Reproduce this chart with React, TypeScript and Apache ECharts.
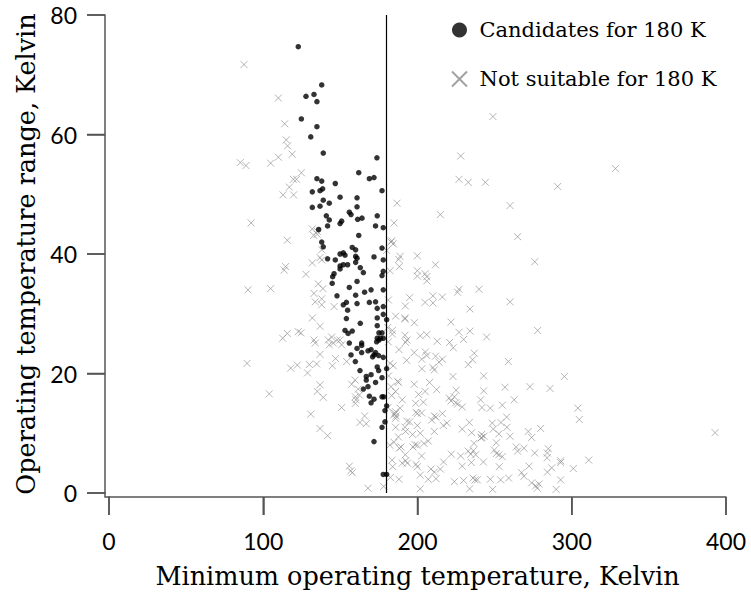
import React, { useEffect, useRef } from "react";
import * as echarts from "echarts";

const xTicks = [0, 100, 200, 300, 400];
const yTicks = [0, 20, 40, 60, 80];
const xTitle = "Minimum operating temperature, Kelvin";
const yTitle = "Operating temperature range, Kelvin";
const candidateName = "Candidates for 180 K";
const unsuitableName = "Not suitable for 180 K";
const threshold = 180;

const candidates: [number, number][] = [
  [122.7,74.7],[137.9,68.3],[132.9,66.7],[127.7,66.4],[134.8,65.5],[124.7,62.6],[134.8,61.3],[130.8,59.6],[138.9,56.9],[173.7,56.1],
  [161.9,53.6],[168.8,52.6],[171.8,52.8],[134.8,52.6],[137.9,52.2],[146.7,51.8],[131.8,50.4],[136.8,50.6],[138.5,50.9],[177.0,50.6],
  [149.8,49.5],[160.8,49.4],[138.9,49.0],[142.8,48.5],[131.8,47.8],[136.8,48.0],[160.8,47.9],[155.8,47.0],[156.9,46.6],[173.9,46.4],
  [140.9,46.4],[142.8,45.7],[161.2,45.8],[164.0,46.0],[150.8,45.5],[149.8,45.1],[141.7,44.7],[172.8,44.7],[177.8,44.4],[135.9,44.1],
  [161.9,43.1],[137.9,42.0],[138.9,41.2],[157.7,41.1],[159.9,40.7],[177.0,41.0],[149.8,40.0],[151.9,40.2],[153.0,39.8],[159.9,39.6],
  [160.8,39.3],[171.8,39.5],[141.7,39.2],[146.7,39.0],[177.8,39.0],[159.9,38.6],[151.9,38.2],[154.7,38.2],[149.8,38.0],[149.8,37.5],
  [162.9,37.7],[164.9,36.9],[177.8,37.1],[145.9,36.7],[145.0,36.2],[177.0,36.4],[160.8,35.4],[144.7,35.1],[155.8,34.4],[169.9,34.0],
  [177.8,34.0],[165.7,33.6],[159.9,33.1],[147.8,33.0],[153.9,31.9],[151.9,31.5],[160.8,31.7],[168.8,31.9],[172.8,32.0],[177.8,31.2],
  [154.7,30.6],[173.9,30.9],[177.8,29.9],[173.9,29.3],[180.0,29.0],[153.9,29.2],[162.9,28.4],[173.9,28.0],[153.0,27.2],[155.0,26.7],
  [157.7,27.1],[175.0,26.8],[177.0,26.8],[173.9,25.9],[175.9,25.9],[177.8,25.9],[173.5,25.3],[175.0,25.6],[155.8,25.1],[163.8,25.1],
  [163.8,24.7],[160.8,24.2],[167.9,23.8],[169.9,24.0],[163.8,23.5],[172.8,23.5],[171.8,23.1],[170.9,22.8],[174.8,23.0],[177.8,22.7],
  [156.9,23.1],[159.7,22.0],[173.9,21.1],[174.8,20.5],[180.0,20.8],[162.7,20.5],[169.9,19.8],[166.8,19.5],[177.0,19.3],[166.8,18.9],
  [172.8,18.5],[167.9,17.8],[164.9,17.4],[168.8,16.2],[171.8,15.7],[177.0,16.1],[178.1,16.1],[169.9,15.1],[180.0,14.6],[178.9,13.8],
  [178.9,11.9],[177.0,11.0],[171.8,8.6],[177.8,3.1],[180.0,3.1]
];

const unsuitable: [number, number][] = [
  [87.5,71.7],[109.8,66.1],[113.9,61.8],[114.9,59.1],[115.8,58.1],[118.8,56.7],[109.8,56.2],[104.8,55.2],[85.1,55.3],[88.8,54.8],
  [124.7,53.6],[119.5,52.5],[121.6,52.5],[116.9,51.2],[112.8,49.9],[119.7,49.9],[186.7,48.5],[92.1,45.2],[184.8,45.2],[131.8,44.2],
  [135.0,43.8],[132.7,43.1],[135.0,43.3],[115.6,42.3],[183.3,42.2],[184.3,41.7],[182.8,42.0],[137.9,40.7],[180.0,40.6],[136.8,39.4],
  [137.9,39.0],[187.8,39.1],[131.8,38.5],[114.5,37.9],[113.6,37.3],[188.2,37.9],[182.2,37.2],[127.7,36.6],[135.7,35.0],[138.7,34.2],
  [90.1,34.0],[104.8,34.2],[132.9,33.4],[137.9,32.5],[133.7,32.0],[137.9,31.5],[145.9,31.2],[181.1,32.3],[185.8,29.6],[131.8,29.3],
  [136.8,27.9],[183.7,27.2],[183.7,26.6],[115.6,26.7],[122.7,27.0],[124.5,26.8],[112.6,25.9],
  [132.9,25.6],[133.7,25.1],[142.2,25.6],[144.3,26.1],[145.4,25.1],[148.0,25.6],[149.8,25.6],[142.8,24.8],[150.8,24.8],[136.8,23.2],
  [146.9,22.5],[154.1,22.0],[89.5,21.7],[117.8,20.9],[122.1,21.4],[129.9,21.5],[134.6,21.6],[144.8,21.3],[128.7,20.1],[182.2,21.7],
  [184.3,21.3],[187.1,18.7],[159.5,18.9],[157.3,18.2],[136.8,18.1],[135.0,17.0],[103.9,16.6],[138.9,16.0],[161.6,17.4],[162.3,16.4],
  [159.7,16.1],[160.1,15.6],[159.7,15.0],[182.8,17.8],[185.8,17.0],[183.3,16.3],[150.8,14.3],[180.9,14.3],[185.8,13.6],[184.8,13.1],
  [185.8,12.5],[185.8,11.0],[130.8,13.2],[165.7,12.9],[162.7,11.8],[166.8,11.6],[136.8,10.8],[141.7,9.6],[184.8,8.5],[182.0,8.0],
  [155.8,4.5],[156.7,3.7],[157.7,3.4],[183.5,5.5],[183.9,4.4],[182.4,2.6],[167.9,0.8],[178.1,1.1],
  [248.9,63.0],[228.0,56.4],[226.9,52.5],[232.9,52.0],[244.0,52.0],[290.9,51.3],[260.0,48.1],[214.8,46.6],[264.9,42.9],[188.7,39.6],
  [199.9,39.7],[211.7,38.2],[276.0,38.7],[199.9,37.2],[199.9,36.3],[204.9,36.7],[206.0,36.2],[206.0,35.5],[226.9,34.1],[226.0,33.6],
  [239.9,34.1],[194.9,32.7],[192.1,31.3],[204.9,31.9],[210.0,33.0],[210.0,31.8],[216.1,32.8],[260.0,32.0],[234.0,30.8],[191.9,29.3],
  [191.9,29.1],[197.9,28.5],[221.7,28.6],[180.7,27.7],[191.9,26.4],[201.8,26.3],[206.0,26.5],[226.9,26.9],[234.0,27.1],[277.9,27.2],
  [244.8,26.1],[181.1,25.3],[192.3,25.2],[193.2,25.6],[212.8,25.4],[220.8,25.2],[229.9,25.7],[223.2,24.3],[188.0,24.0],[197.9,23.5],
  [205.1,23.6],[206.0,23.0],[202.7,22.4],[211.7,22.9],[216.1,22.4],[213.9,21.9],[236.8,23.4],[235.7,22.3],[232.9,21.5],[193.0,22.2],
  [258.9,22.0],[202.9,20.8],[210.0,21.0],[210.9,20.6],[223.0,19.5],[242.9,19.6],[295.2,19.5],[181.3,19.6],[187.6,18.5],[197.9,18.2],
  [207.8,18.5],[212.4,17.3],[225.0,17.2],[242.9,17.1],[256.7,17.7],[272.9,17.8],[285.9,17.5],[200.7,16.5],[204.9,17.0],[190.1,15.6],
  [220.6,15.9],[223.9,16.1],[221.7,15.4],[224.8,15.1],[226.0,14.9],[229.0,14.4],[240.9,15.6],[262.7,15.6],[198.8,15.0],[203.8,15.2],
  [255.0,14.7],[241.8,14.3],[247.2,14.2],[188.7,14.2],
  [185.4,13.3],[186.1,12.9],[199.0,13.5],[199.9,13.3],[202.7,13.4],[216.1,13.3],[210.9,12.9],[209.2,12.2],[212.0,12.7],[193.2,12.0],
  [194.9,11.9],[216.7,11.3],[219.1,11.7],[233.6,11.8],[248.5,11.7],[254.1,11.8],[257.8,12.7],[191.9,11.0],[192.3,10.3],[199.9,11.3],
  [229.0,10.7],[210.9,10.3],[235.1,10.1],[241.6,9.8],[243.1,9.5],[241.6,9.3],[249.1,10.7],[252.8,9.9],[258.0,11.0],[260.0,9.5],
  [271.8,10.3],[274.0,9.3],[279.8,10.8],[196.8,9.8],[201.8,10.0],[187.6,9.4],[188.2,7.5],[189.3,7.7],[197.1,7.7],[198.4,8.1],
  [199.9,8.0],[204.2,8.3],[207.0,8.7],[236.6,8.3],[241.2,9.2],[251.1,8.4],[264.0,7.7],[192.1,6.4],[202.7,6.2],[221.9,6.5],
  [228.0,6.2],[232.9,7.0],[236.2,7.1],[234.5,6.5],[237.7,6.4],[249.8,7.2],[251.1,6.6],[252.8,6.4],[254.9,6.1],[264.9,7.0],
  [269.0,7.5],[276.0,6.7],[284.8,7.4],[284.2,6.7],[284.0,5.9],[292.8,5.4],[292.8,5.1],[190.1,5.0],[192.3,5.4],[193.4,5.0],
  [199.0,4.8],[199.9,4.4],[216.9,5.2],[229.0,4.5],[234.9,5.1],[242.7,5.2],[253.0,4.4],[272.3,4.5],[287.0,4.2],[284.2,3.5],
  [208.7,4.0],[210.9,3.5],[214.8,4.0],[267.5,3.4],[269.0,2.8],[188.0,2.3],[201.8,3.0],[207.0,2.3],[212.0,2.4],[223.9,1.9],
  [229.9,2.1],[236.0,2.5],[237.3,2.2],[238.8,2.2],[247.2,2.3],[253.9,2.2],[259.1,2.5],[274.0,1.7],[276.6,1.2],[277.6,0.8],
  [278.8,1.5],[292.8,2.2],[201.8,0.7],[233.8,0.7],[248.7,0.6],[289.9,0.6],
  [328.3,54.3],[304.0,14.2],[304.9,12.3],[392.9,10.1],[311.0,5.5],[301.0,4.1]
];

const AXIS_COLOR = "#555";
const SERIF = "'DejaVu Serif', 'Liberation Serif', serif";
const SANS = "Lato, 'Open Sans', sans-serif";
const AXIS_OFFSET = 4;
const TICK_LEN = 18;

export default function App() {
  const ref = useRef<HTMLDivElement>(null);
  useEffect(() => {
    if (!ref.current) return;
    const chart = echarts.init(ref.current, undefined, { renderer: "svg" });
    const axisCommon = {
      type: "value" as const,
      offset: AXIS_OFFSET,
      axisLine: { show: true, onZero: false, lineStyle: { color: AXIS_COLOR, width: 1.5 } },
      axisTick: { show: true, inside: false, length: TICK_LEN, lineStyle: { color: AXIS_COLOR, width: 1.5 } },
      splitLine: { show: false },
      nameLocation: "middle" as const,
      nameTextStyle: { fontFamily: SERIF, fontSize: 25.5, color: "#000" },
    };
    chart.setOption({
      animation: false,
      grid: { left: 109, right: 25, top: 15, bottom: 105 },
      legend: {
        orient: "vertical",
        left: 446,
        top: 12,
        itemWidth: 30,
        itemHeight: 15,
        itemGap: 23,
        textStyle: { fontFamily: SERIF, fontSize: 21, color: "#000", lineHeight: 26 },
        data: [candidateName, unsuitableName],
      },
      xAxis: {
        ...axisCommon,
        position: "bottom",
        min: xTicks[0],
        max: xTicks[xTicks.length - 1],
        interval: xTicks[1] - xTicks[0],
        name: xTitle,
        nameGap: 66,
        axisLabel: { margin: 32, fontFamily: SANS, fontSize: 23, color: "#000" },
      },
      yAxis: {
        ...axisCommon,
        position: "left",
        min: yTicks[0],
        max: yTicks[yTicks.length - 1],
        interval: yTicks[1] - yTicks[0],
        name: yTitle,
        nameGap: 64,
        nameRotate: 90,
        axisLabel: { margin: 28, fontFamily: SANS, fontSize: 23, color: "#000" },
      },
      series: [
        {
          name: unsuitableName,
          type: "scatter",
          symbol: "path://M0,0L10,10M10,0L0,10",
          symbolSize: 7,
          itemStyle: { color: "rgba(0,0,0,0)", borderColor: "#8a8a8a", borderWidth: 0.8 },
          data: unsuitable,
          z: 2,
        },
        {
          name: candidateName,
          type: "scatter",
          symbol: "circle",
          symbolSize: 5.5,
          itemStyle: { color: "#000" },
          data: candidates,
          z: 3,
          markLine: {
            silent: true,
            symbol: ["none", "none"],
            label: { show: false },
            lineStyle: { color: "#000", width: 1.2, type: "solid" },
            data: [{ xAxis: threshold }],
          },
        },
      ],
    });

    // Tick marks drawn from the axes' own scales, so they have the full length.
    const yZero = chart.convertToPixel({ yAxisIndex: 0 }, yTicks[0]) as number;
    const xZero = chart.convertToPixel({ xAxisIndex: 0 }, xTicks[0]) as number;
    const xLineY = yZero + AXIS_OFFSET;
    const yLineX = xZero - AXIS_OFFSET;
    const tickStyle = { stroke: AXIS_COLOR, lineWidth: 1.5 };
    const graphics: any[] = [];
    xTicks.forEach((v) => {
      const px = chart.convertToPixel({ xAxisIndex: 0 }, v) as number;
      graphics.push({
        type: "line",
        silent: true,
        shape: { x1: px, y1: xLineY, x2: px, y2: xLineY + TICK_LEN },
        style: tickStyle,
      });
    });
    yTicks.forEach((v) => {
      const py = chart.convertToPixel({ yAxisIndex: 0 }, v) as number;
      graphics.push({
        type: "line",
        silent: true,
        shape: { x1: yLineX, y1: py, x2: yLineX - TICK_LEN, y2: py },
        style: tickStyle,
      });
    });
    graphics.push({
      type: "polyline",
      silent: true,
      shape: { points: [[yLineX, yZero - 1], [yLineX, xLineY], [xZero + 1, xLineY]] },
      style: { stroke: AXIS_COLOR, lineWidth: 1.5, fill: "none" },
    });
    chart.setOption({ graphic: graphics });

    return () => chart.dispose();
  }, []);
  return (
    <div
      ref={ref}
      style={{ position: "absolute", left: 0, top: 0, width: 751, height: 598 }}
    />
  );
}
